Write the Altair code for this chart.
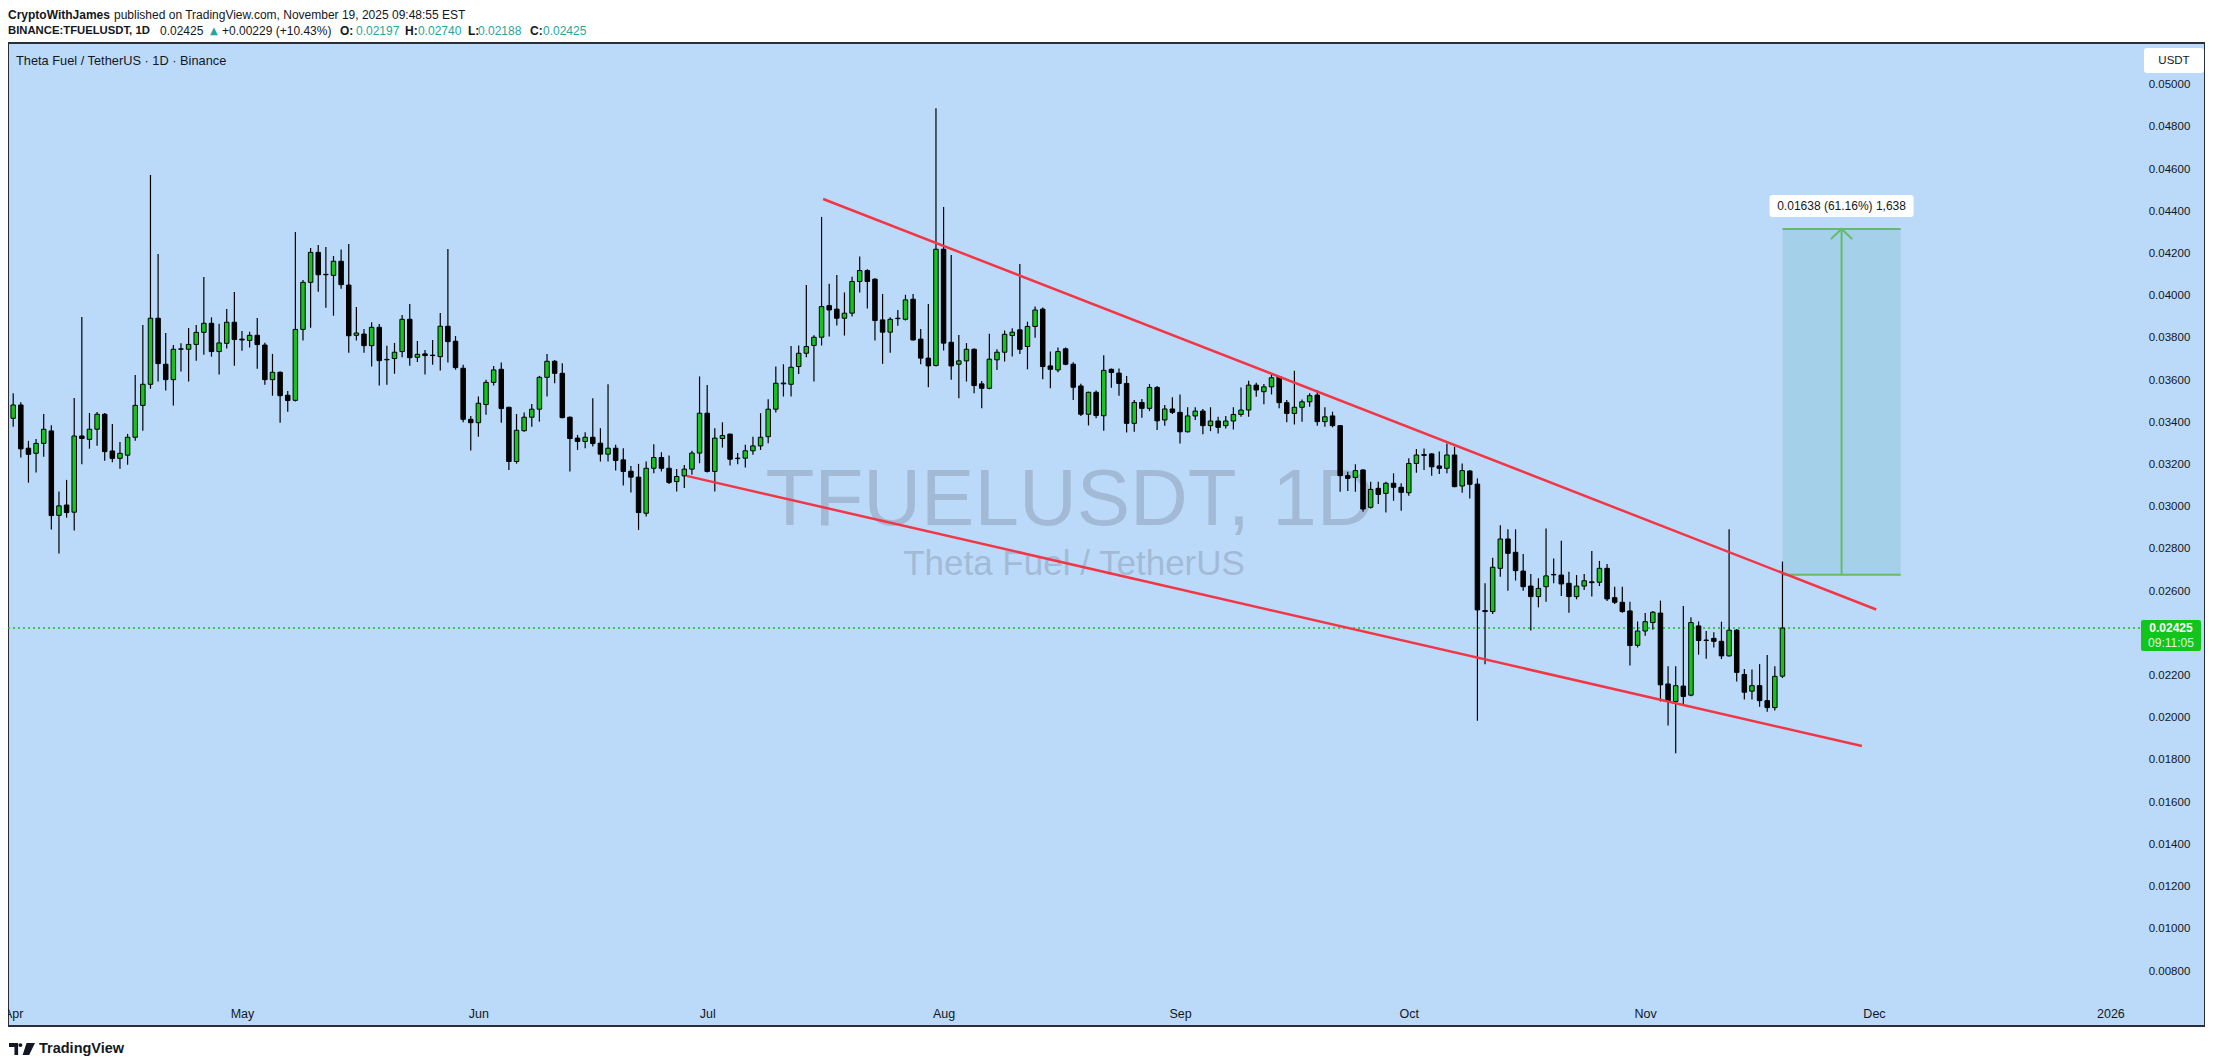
import altair as alt
import pandas as pd

FONT = "Liberation Sans, Arial, sans-serif"
INK = "#131722"
UP = "#17c21e"
LABEL_GREEN = "#12c41c"
TEAL = "#26a69a"
RED = "#f23645"
MEASURE_GREEN = "#66bb6a"

# ---------------- data (prices x 100000) ----------------
dates = pd.date_range("2025-04-01", periods=233, freq="D").strftime("%Y-%m-%d").tolist()

opens = [3419, 3482, 3277, 3253, 3300, 3359, 2959, 3008, 2974, 3335,
         3319, 3367, 3438, 3264, 3229, 3244, 3329, 3480, 3580, 3893,
         3675, 3602, 3746, 3746, 3769, 3826, 3869, 3735, 3774, 3874,
         3794, 3788, 3812, 3766, 3602, 3637, 3528, 3504, 3840, 4063,
         4205, 4101, 4096, 4163, 4050, 3812, 3818, 3763, 3850, 3696,
         3702, 3735, 3888, 3708, 3724, 3716, 3711, 3855, 3784, 3656,
         3414, 3398, 3484, 3589, 3651, 3471, 3214, 3360, 3424, 3462,
         3613, 3689, 3632, 3424, 3325, 3309, 3329, 3301, 3249, 3277,
         3222, 3168, 3140, 2969, 3182, 3233, 3182, 3119, 3146, 3178,
         3254, 3443, 3167, 3323, 3344, 3228, 3230, 3265, 3288, 3332,
         3462, 3582, 3580, 3664, 3727, 3764, 3803, 3953, 3936, 3893,
         3917, 4067, 4119, 4078, 3885, 3827, 3891, 3888, 3983, 3794,
         3704, 3669, 4220, 3779, 3675, 3691, 3746, 3582, 3561, 3696,
         3732, 3811, 3838, 3759, 3854, 3936, 3667, 3648, 3748, 3675,
         3572, 3438, 3542, 3431, 3651, 3633, 3584, 3395, 3494, 3466,
         3565, 3411, 3463, 3447, 3355, 3430, 3453, 3384, 3406, 3384,
         3406, 3437, 3458, 3576, 3545, 3568, 3616, 3493, 3442, 3471,
         3497, 3529, 3403, 3430, 3384, 3147, 3139, 3174, 2997, 3087,
         3063, 3111, 3092, 3066, 3205, 3247, 3250, 3193, 3182, 3245,
         3098, 3169, 3107, 2508, 2503, 2708, 2847, 2784, 2695, 2624,
         2574, 2621, 2677, 2676, 2637, 2574, 2624, 2644, 2642, 2708,
         2569, 2547, 2506, 2343, 2411, 2451, 2496, 2160, 2077, 2150,
         2107, 2435, 2368, 2376, 2362, 2293, 2415, 2205, 2126, 2152,
         2081, 2048, 2197]

highs = [3537, 3495, 3312, 3321, 3439, 3386, 3072, 3127, 3515, 3899,
         3444, 3449, 3444, 3392, 3307, 3345, 3624, 3861, 4572, 4197,
         3823, 3766, 3774, 3847, 3861, 4088, 3897, 3867, 3937, 4017,
         3833, 3829, 3894, 3777, 3724, 3640, 3548, 4302, 4074, 4226,
         4240, 4231, 4188, 4219, 4245, 3946, 3842, 3874, 3866, 3763,
         3776, 3908, 3960, 3785, 3743, 3790, 3918, 4221, 3809, 3672,
         3430, 3522, 3602, 3667, 3683, 3473, 3439, 3446, 3487, 3620,
         3724, 3695, 3680, 3427, 3340, 3353, 3514, 3372, 3580, 3293,
         3277, 3193, 3203, 3214, 3296, 3258, 3242, 3179, 3198, 3265,
         3617, 3577, 3372, 3400, 3346, 3254, 3293, 3332, 3443, 3509,
         3664, 3675, 3762, 3764, 4051, 3812, 4373, 4056, 4098, 4015,
         4090, 4185, 4125, 4082, 4008, 3898, 3932, 4004, 4008, 3842,
         3961, 4888, 4420, 4193, 3814, 3775, 3750, 3596, 3819, 3746,
         3835, 3846, 4150, 3877, 3948, 3944, 3735, 3754, 3754, 3685,
         3582, 3545, 3550, 3718, 3655, 3655, 3619, 3505, 3510, 3581,
         3572, 3482, 3518, 3532, 3471, 3471, 3463, 3471, 3426, 3430,
         3471, 3565, 3597, 3587, 3581, 3627, 3619, 3505, 3644, 3508,
         3537, 3553, 3471, 3450, 3387, 3166, 3201, 3177, 3118, 3118,
         3118, 3158, 3111, 3229, 3273, 3276, 3253, 3261, 3300, 3284,
         3205, 3174, 3134, 2637, 2758, 2912, 2893, 2893, 2776, 2681,
         2661, 2897, 2755, 2839, 2692, 2676, 2681, 2790, 2743, 2728,
         2621, 2621, 2550, 2456, 2496, 2506, 2555, 2244, 2244, 2529,
         2476, 2456, 2411, 2405, 2455, 2893, 2421, 2231, 2229, 2254,
         2297, 2244, 2740]

lows = [3379, 3233, 3114, 3162, 3237, 2892, 2778, 2948, 2887, 3201,
        3275, 3289, 3218, 3210, 3180, 3199, 3313, 3360, 3559, 3593,
        3550, 3479, 3640, 3593, 3692, 3720, 3711, 3626, 3749, 3668,
        3739, 3754, 3654, 3578, 3526, 3398, 3450, 3498, 3787, 3848,
        4019, 3943, 3905, 4033, 3730, 3787, 3730, 3664, 3574, 3578,
        3630, 3708, 3668, 3686, 3626, 3673, 3645, 3683, 3649, 3400,
        3266, 3332, 3436, 3574, 3398, 3174, 3204, 3355, 3379, 3403,
        3522, 3585, 3419, 3167, 3269, 3277, 3285, 3214, 3214, 3171,
        3100, 3067, 2890, 2954, 3159, 3167, 3108, 3072, 3088, 3151,
        3206, 3162, 3072, 3280, 3195, 3201, 3186, 3246, 3269, 3301,
        3446, 3522, 3522, 3629, 3708, 3593, 3764, 3806, 3858, 3811,
        3901, 4015, 3939, 3787, 3677, 3730, 3857, 3882, 3787, 3675,
        3566, 3664, 3740, 3601, 3514, 3593, 3538, 3467, 3556, 3648,
        3688, 3712, 3724, 3651, 3801, 3604, 3561, 3637, 3670, 3506,
        3430, 3385, 3419, 3360, 3564, 3526, 3352, 3355, 3422, 3453,
        3363, 3384, 3439, 3300, 3351, 3411, 3343, 3358, 3347, 3371,
        3366, 3426, 3426, 3521, 3485, 3532, 3466, 3400, 3390, 3403,
        3474, 3384, 3379, 3376, 3071, 3074, 3071, 2976, 2992, 3013,
        2973, 3028, 2981, 3052, 3161, 3174, 3147, 3155, 3158, 3092,
        3066, 3039, 1986, 2253, 2492, 2668, 2602, 2650, 2602, 2413,
        2523, 2550, 2637, 2577, 2498, 2561, 2605, 2574, 2624, 2553,
        2539, 2498, 2247, 2333, 2388, 2417, 2077, 1963, 1832, 2062,
        2102, 2299, 2280, 2333, 2278, 2290, 2172, 2087, 2087, 2052,
        2028, 2034, 2188]

closes = [3482, 3274, 3248, 3300, 3367, 2958, 3004, 2972, 3335, 3323,
          3367, 3438, 3261, 3229, 3253, 3329, 3480, 3580, 3893, 3678,
          3602, 3746, 3748, 3769, 3826, 3869, 3735, 3776, 3874, 3792,
          3790, 3812, 3768, 3602, 3637, 3526, 3503, 3840, 4063, 4205,
          4099, 4099, 4163, 4052, 3810, 3823, 3763, 3850, 3692, 3698,
          3732, 3888, 3706, 3722, 3716, 3718, 3855, 3782, 3659, 3414,
          3398, 3490, 3589, 3648, 3465, 3214, 3362, 3424, 3462, 3613,
          3689, 3632, 3422, 3323, 3309, 3329, 3299, 3249, 3277, 3219,
          3167, 3140, 2972, 3182, 3233, 3182, 3115, 3143, 3178, 3254,
          3443, 3167, 3325, 3337, 3225, 3230, 3265, 3288, 3329, 3462,
          3585, 3586, 3661, 3727, 3759, 3803, 3948, 3932, 3893, 3917,
          4067, 4119, 4067, 3882, 3827, 3888, 3893, 3980, 3790, 3704,
          3667, 4220, 3775, 3667, 3691, 3746, 3574, 3561, 3699, 3732,
          3817, 3827, 3746, 3854, 3932, 3664, 3651, 3735, 3675, 3566,
          3438, 3542, 3432, 3646, 3636, 3584, 3395, 3494, 3466, 3565,
          3407, 3463, 3447, 3355, 3430, 3453, 3384, 3406, 3376, 3406,
          3437, 3458, 3576, 3553, 3568, 3611, 3493, 3442, 3471, 3497,
          3526, 3403, 3426, 3384, 3147, 3134, 3171, 2989, 3082, 3058,
          3111, 3092, 3068, 3205, 3245, 3243, 3189, 3182, 3245, 3095,
          3171, 3106, 2511, 2503, 2713, 2847, 2779, 2697, 2621, 2574,
          2613, 2672, 2679, 2634, 2574, 2624, 2649, 2640, 2708, 2563,
          2547, 2503, 2342, 2411, 2455, 2500, 2156, 2077, 2152, 2101,
          2451, 2366, 2366, 2362, 2293, 2415, 2215, 2121, 2152, 2081,
          2048, 2196, 2425]

# trend lines (falling wedge)
upper_dates = ["2025-07-16T05:00:00Z", "2025-12-01T07:00:00Z"]
upper_prices = [0.04458, 0.02513]
lower_dates = ["2025-06-28T07:00:00Z", "2025-11-29T10:00:00Z"]
lower_prices = [0.03146, 0.01866]

# price-range measurement
measure_start = "2025-11-19T00:00:00Z"
measure_end = "2025-12-04T12:00:00Z"
measure_mid = "2025-11-26T18:00:00Z"
measure_bottom = 0.02678
measure_top = 0.04316
measure_label = "0.01638 (61.16%) 1,638"

last_price = 0.02425
last_price_text = "0.02425"
countdown_text = "09:11:05"

price_ticks = [0.050, 0.048, 0.046, 0.044, 0.042, 0.040, 0.038, 0.036, 0.034,
               0.032, 0.030, 0.028, 0.026, 0.022, 0.020, 0.018, 0.016, 0.014,
               0.012, 0.010, 0.008]
month_ticks = [(2025, m) for m in range(4, 13)] + [(2026, 1)]

# ---------------- tables ----------------
candles = pd.DataFrame({
    "date": dates,
    "open": [v / 1e5 for v in opens],
    "high": [v / 1e5 for v in highs],
    "low": [v / 1e5 for v in lows],
    "close": [v / 1e5 for v in closes],
})
lines_df = pd.DataFrame({
    "line": ["upper", "upper", "lower", "lower"],
    "date": upper_dates + lower_dates,
    "price": upper_prices + lower_prices,
})
measure_df = pd.DataFrame({
    "start": [measure_start], "end": [measure_end], "mid": [measure_mid],
    "bottom": [measure_bottom], "top": [measure_top], "label": [measure_label],
})
last_df = pd.DataFrame({"p": [last_price], "pt": [last_price_text], "cd": [countdown_text]})

W, H = 2197, 983

x_scale = alt.Scale(
    type="utc",
    domain=[alt.DateTime(year=2025, month=3, date=31, hours=23, minutes=22, seconds=24, utc=True),
            alt.DateTime(year=2026, month=1, date=12, hours=18, utc=True)],
)
x_axis = alt.Axis(
    values=[alt.DateTime(year=y, month=m, date=1, utc=True) for y, m in month_ticks],
    labelExpr="utcFormat(datum.value, '%m') == '01' ? utcFormat(datum.value, '%Y') : utcFormat(datum.value, '%b')",
    title=None, grid=False, domain=False, ticks=False, tickSize=0, labelPadding=0,
    offset=-13, labelBaseline="middle", labelFlush=False, labelOverlap=False, labelBound=False,
    labelFont=FONT, labelFontSize=12.5, labelColor=INK,
)
y_scale = alt.Scale(domain=[0.005394, 0.051971], nice=False, zero=False)
y_axis = alt.Axis(
    orient="right", values=price_ticks, format=".5f", title=None, grid=False,
    domain=False, ticks=False, tickSize=0, labelPadding=0, offset=-36,
    labelAlign="center", labelBaseline="middle", labelFont=FONT, labelFontSize=11.5,
    labelColor=INK,
)


def X(f):
    return alt.X(f, scale=x_scale, axis=x_axis)


def Y(f):
    return alt.Y(f, scale=y_scale, axis=y_axis)


def rrect(x0, y0, x1, y1, r):
    return (f"M{x0 + r},{y0}L{x1 - r},{y0}Q{x1},{y0},{x1},{y0 + r}L{x1},{y1 - r}"
            f"Q{x1},{y1},{x1 - r},{y1}L{x0 + r},{y1}Q{x0},{y1},{x0},{y1 - r}"
            f"L{x0},{y0 + r}Q{x0},{y0},{x0 + r},{y0}Z")


def txt(s, x, y, size=12, weight="normal", color=INK, align="left",
        baseline="middle", font=FONT):
    return alt.Chart(pd.DataFrame({"s": [s]})).mark_text(
        font=font, fontSize=size, fontWeight=weight, color=color,
        align=align, baseline=baseline,
    ).encode(x=alt.value(x), y=alt.value(y), text="s:N")


def box(x, y, shape, size, color):
    return alt.Chart(pd.DataFrame({"s": [0]})).mark_point(
        shape=shape, size=size, filled=True, color=color, opacity=1, strokeWidth=0,
    ).encode(x=alt.value(x), y=alt.value(y))


layers = []

# watermark
layers.append(txt("TFUELUSDT, 1D", 1062, 482, size=80, color="#a3bad6",
                  align="center", baseline="alphabetic"))
layers.append(txt("Theta Fuel / TetherUS", 1066, 532, size=35, color="#a3bad6",
                  align="center", baseline="alphabetic"))

# last-price dotted line
layers.append(alt.Chart(last_df).mark_rule(color=LABEL_GREEN, strokeDash=[2, 3], strokeWidth=1.4)
              .encode(x=alt.value(0), x2=alt.value(2133), y=Y("p:Q")))

# measurement box
layers.append(alt.Chart(measure_df).mark_rect(color="#a5d0e9", opacity=1)
              .encode(x=X("start:T"), x2="end:T", y=Y("bottom:Q"), y2="top:Q"))
layers.append(alt.Chart(measure_df).mark_rule(color=MEASURE_GREEN, strokeWidth=2)
              .encode(x=X("start:T"), x2="end:T", y=Y("top:Q")))
layers.append(alt.Chart(measure_df).mark_rule(color=MEASURE_GREEN, strokeWidth=2)
              .encode(x=X("start:T"), x2="end:T", y=Y("bottom:Q")))
layers.append(alt.Chart(measure_df).mark_rule(color=MEASURE_GREEN, strokeWidth=2)
              .encode(x=X("mid:T"), y=Y("bottom:Q"), y2="top:Q"))
layers.append(alt.Chart(measure_df).mark_point(shape="M-1,0.95L0,0L1,0.95", filled=False,
                                               color=MEASURE_GREEN, strokeWidth=2, size=458, opacity=1)
              .encode(x=X("mid:T"), y=Y("top:Q")))

# candles
layers.append(alt.Chart(candles).mark_rule(color="#000000", strokeWidth=1.2)
              .encode(x=X("date:T"), y=Y("low:Q"), y2="high:Q"))
layers.append(alt.Chart(candles).mark_bar(size=4.5, stroke="#000000", strokeWidth=1, opacity=1)
              .encode(x=X("date:T"), y=Y("open:Q"), y2="close:Q",
                      color=alt.condition("datum.close >= datum.open", alt.value(UP), alt.value("#000000"))))

# trend lines
layers.append(alt.Chart(lines_df).mark_line(color=RED, strokeWidth=2.5)
              .encode(x=X("date:T"), y=Y("price:Q"), detail="line:N"))

# measurement label
layers.append(alt.Chart(measure_df).mark_point(shape=rrect(-1, -0.153, 1, 0.153, 0.04), size=20736,
                                               filled=True, color="#ffffff", opacity=1, strokeWidth=0,
                                               yOffset=-23)
              .encode(x=X("mid:T"), y=Y("top:Q")))
layers.append(alt.Chart(measure_df).mark_text(font=FONT, fontSize=12, color=INK, yOffset=-23,
                                              align="center", baseline="middle")
              .encode(x=X("mid:T"), y=Y("top:Q"), text="label:N"))

# last price label on the scale
layers.append(alt.Chart(last_df).mark_point(shape=rrect(-1, -0.267, 1, 0.767, 0.07), size=3600,
                                            filled=True, color=LABEL_GREEN, opacity=1, strokeWidth=0)
              .encode(x=alt.value(2163), y=Y("p:Q")))
layers.append(alt.Chart(last_df).mark_text(font=FONT, fontSize=12, fontWeight="bold", color="#ffffff",
                                           align="center", baseline="middle")
              .encode(x=alt.value(2163), y=Y("p:Q"), text="pt:N"))
layers.append(alt.Chart(last_df).mark_text(font=FONT, fontSize=12, color="#dff7df", yOffset=15,
                                           align="center", baseline="middle")
              .encode(x=alt.value(2163), y=Y("p:Q"), text="cd:N"))

# USDT box
layers.append(box(2166, 17.5, rrect(-1, -0.417, 1, 0.417, 0.1), 3600, "#ffffff"))
layers.append(txt("USDT", 2166, 17.5, size=11.5, align="center"))

# pane title
layers.append(txt("Theta Fuel / TetherUS \u00b7 1D \u00b7 Binance", 8, 18, size=12.8))

# header
layers.append(txt("CryptoWithJames", 0, -28, size=12, weight="bold"))
layers.append(txt("published on TradingView.com, November 19, 2025 09:48:55 EST", 106, -28, size=12))
layers.append(txt("BINANCE:TFUELUSDT, 1D", 0, -12, size=11.3, weight="bold"))
layers.append(txt("0.02425", 152, -12, size=12))
layers.append(txt("\u25b2", 202, -12, size=10, color=TEAL, font="DejaVu Sans"))
layers.append(txt("+0.00229 (+10.43%)", 214, -12, size=12))
for lab, lx, val, vx in [("O:", 332, "0.02197", 348), ("H:", 397, "0.02740", 410),
                         ("L:", 460, "0.02188", 470), ("C:", 522, "0.02425", 535)]:
    layers.append(txt(lab, lx, -12, size=12, weight="bold"))
    layers.append(txt(val, vx, -12, size=12, color=TEAL))

# footer logo
logo_path = ("M-1,-0.46L-0.3,-0.46L-0.3,0.46L-0.58,0.46L-0.58,-0.16L-1,-0.16Z"
             "M-0.27,-0.3A0.15,0.15,0,1,0,0.03,-0.3A0.15,0.15,0,1,0,-0.27,-0.3Z"
             "M0.35,-0.46L1,-0.46L0.55,0.46L0.05,0.46Z")
layers.append(box(14, 1006, logo_path, 676, INK))
layers.append(txt("TradingView", 31, 1006, size=14.5, weight="bold"))

chart = alt.layer(*layers).properties(
    width=W, height=H,
    autosize=alt.AutoSizeParams(type="none"),
    padding={"left": 0, "right": 0, "top": 35, "bottom": 30},
    background="#ffffff",
).configure_view(fill="#bbdafa", stroke="#2a2e39", strokeWidth=2)

chart.save("out.html", embed_options={"renderer": "svg", "actions": False})
